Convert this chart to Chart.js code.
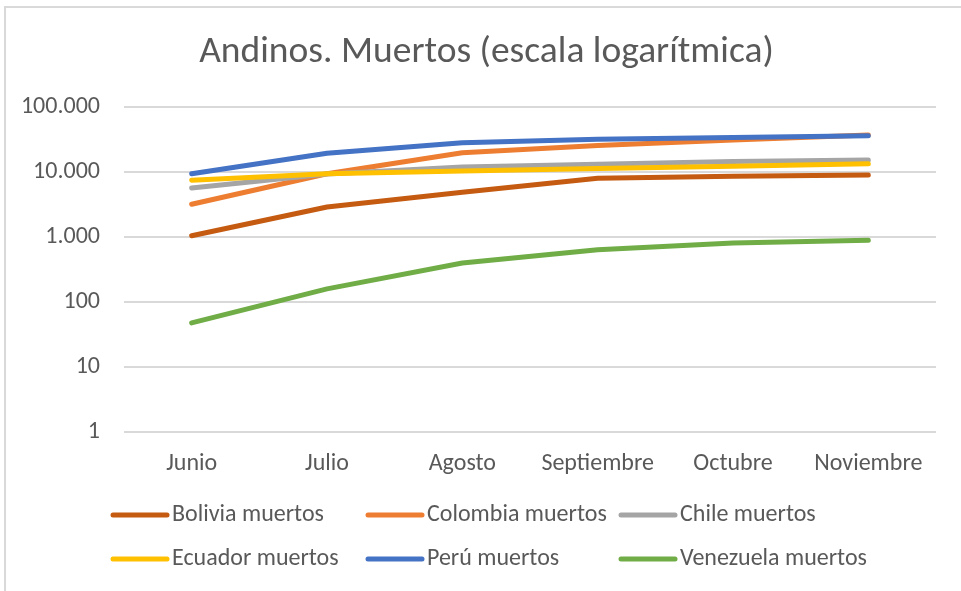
<!DOCTYPE html>
<html>
<head>
<meta charset="utf-8">
<script src="https://cdn.jsdelivr.net/npm/chart.js@4"></script>
<style>
  html, body { margin: 0; padding: 0; background: #fff; }
  #wrap { position: relative; width: 961px; height: 591px; }
</style>
</head>
<body>
<div id="wrap"><canvas id="chart" width="961" height="591"></canvas></div>
<script>
// Andinos - muertos acumulados (escala logaritmica)
const months = ['Junio', 'Julio', 'Agosto', 'Septiembre', 'Octubre', 'Noviembre'];

const bolivia   = [1050, 2900, 4900, 8000, 8600, 9000];
const colombia  = [3200, 9400, 19800, 25500, 31000, 37000];
const chile     = [5700, 9300, 12000, 13200, 14500, 15300];
const ecuador   = [7500, 9400, 10400, 11300, 12300, 13400];
const peru      = [9400, 19500, 28300, 32000, 34000, 36000];
const venezuela = [48, 160, 400, 640, 810, 890];

const yTicks = [1, 10, 100, 1000, 10000, 100000];

const textColor = '#595959';
const fontFamily = "Carlito, Calibri, Lato, sans-serif";

const series = [
    { label: 'Bolivia muertos',   data: bolivia,   color: '#C55A11' },
    { label: 'Colombia muertos',  data: colombia,  color: '#ED7D31' },
    { label: 'Chile muertos',     data: chile,     color: '#A5A5A5' },
    { label: 'Ecuador muertos',   data: ecuador,   color: '#FFC000' },
    { label: 'Perú muertos',      data: peru,      color: '#4472C4' },
    { label: 'Venezuela muertos', data: venezuela, color: '#70AD47' },
];

function fmt(v) {
    return String(v).replace(/\B(?=(\d{3})+(?!\d))/g, '.');
}

// thin grey frame like the exported Excel chart
const framePlugin = {
    id: 'frame',
    beforeDraw(chart) {
        const ctx = chart.ctx;
        ctx.save();
        ctx.strokeStyle = '#d9d9d9';
        ctx.lineWidth = 2;
        ctx.strokeRect(5, 7, 2000, 2000);
        ctx.restore();
    }
};

// legend in fixed columns (Excel style)
const gridLegend = {
    id: 'gridLegend',
    afterDraw(chart, args, opts) {
        const ctx = chart.ctx;
        ctx.save();
        ctx.font = opts.fontSize + 'px ' + fontFamily;
        ctx.textBaseline = 'middle';
        chart.data.datasets.forEach((ds, i) => {
            const x = opts.cols[i % opts.cols.length];
            const y = opts.rows[Math.floor(i / opts.cols.length)];
            ctx.strokeStyle = ds.borderColor;
            ctx.lineWidth = 5;
            ctx.lineCap = 'round';
            ctx.beginPath();
            ctx.moveTo(x, y);
            ctx.lineTo(x + opts.swatch, y);
            ctx.stroke();
            ctx.fillStyle = textColor;
            ctx.fillText(ds.label, x + opts.swatch + 5, y);
        });
        ctx.restore();
    }
};

new Chart(document.getElementById('chart'), {
    type: 'line',
    data: {
        labels: months,
        datasets: series.map((s, i) => ({
            label: s.label,
            data: s.data,
            borderColor: s.color,
            backgroundColor: s.color,
            borderWidth: 5,
            borderCapStyle: 'round',
            borderJoinStyle: 'round',
            pointRadius: 0,
            tension: 0,
            order: series.length - i // later series drawn on top
        }))
    },
    options: {
        responsive: false,
        animation: false,
        layout: { padding: { left: 20, right: 25, top: 0, bottom: 96 } },
        plugins: {
            legend: { display: false },
            tooltip: { enabled: false },
            title: {
                display: true,
                // leading spaces nudge the centred title a bit right, as in Excel
                text: '\u00a0\u00a0Andinos. Muertos (escala logarítmica)',
                color: textColor,
                font: { family: fontFamily, size: 37.5, weight: 'normal' },
                padding: { top: 30, bottom: 32 }
            },
            gridLegend: {
                cols: [113, 368, 621],
                rows: [515, 559],
                swatch: 54,
                fontSize: 24
            }
        },
        scales: {
            x: {
                offset: true,
                grid: { display: false, drawTicks: false },
                border: { display: false },
                ticks: {
                    color: textColor,
                    font: { family: fontFamily, size: 24 },
                    padding: 17,
                    maxRotation: 0
                }
            },
            y: {
                type: 'logarithmic',
                min: 1,
                max: 100000,
                afterBuildTicks(scale) {
                    scale.ticks = yTicks.map(v => ({ value: v }));
                },
                afterFit(scale) {
                    scale.width = 104;
                },
                grid: { color: '#d9d9d9', lineWidth: 2, drawTicks: false },
                border: { display: false },
                ticks: {
                    color: textColor,
                    font: { family: fontFamily, size: 24 },
                    padding: 24,
                    callback: v => fmt(v)
                }
            }
        }
    },
    plugins: [framePlugin, gridLegend]
});
</script>
</body>
</html>
